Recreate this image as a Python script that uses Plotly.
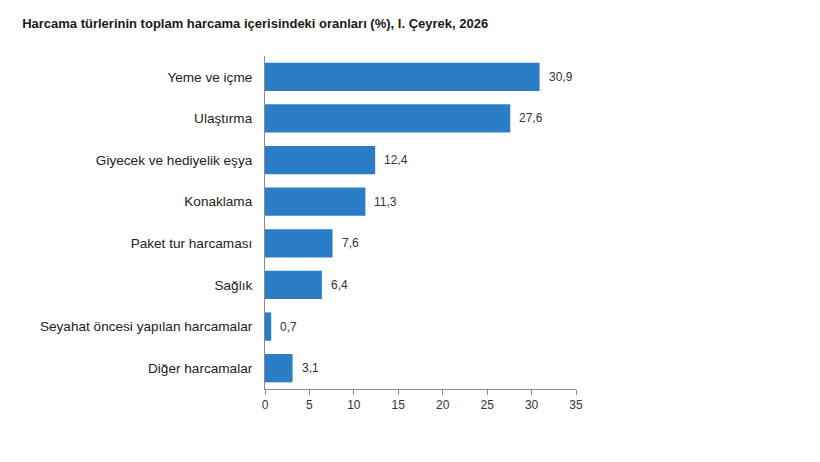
import plotly.graph_objects as go

categories = ["Yeme ve içme", "Ulaştırma", "Giyecek ve hediyelik eşya", "Konaklama",
              "Paket tur harcaması", "Sağlık", "Seyahat öncesi yapılan harcamalar", "Diğer harcamalar"]
values = [30.9, 27.6, 12.4, 11.3, 7.6, 6.4, 0.7, 3.1]
x_ticks = [0, 5, 10, 15, 20, 25, 30, 35]
title = "Harcama türlerinin toplam harcama içerisindeki oranları (%), I. Çeyrek, 2026"

fig = go.Figure(go.Bar(
    x=values, y=categories, orientation="h",
    marker=dict(color="#2a7dc6", line=dict(width=0)),
    width=0.68,
    hoverinfo="skip",
))

for c, v in zip(categories, values):
    fig.add_annotation(x=v, y=c, text=f"{v:.1f}".replace(".", ","), showarrow=False,
                       xanchor="left", xshift=7, font=dict(size=12, color="#333333"))

fig.update_layout(
    width=820, height=462,
    margin=dict(l=265, r=244, t=56, b=73),
    paper_bgcolor="white", plot_bgcolor="white",
    font=dict(family="Liberation Sans, Arial, sans-serif", size=12, color="#222222"),
    title=dict(text="<b>" + title + "</b>", x=0.027, xanchor="left", y=0.95, yanchor="middle",
               font=dict(size=13, color="#1a1a1a")),
    showlegend=False,
    xaxis=dict(range=[0, 35], tickvals=x_ticks, showgrid=False, zeroline=False,
               showline=True, linecolor="#8a8a8a", linewidth=1,
               ticks="outside", ticklen=5, tickcolor="#8a8a8a",
               tickfont=dict(size=12, color="#333333")),
    yaxis=dict(autorange="reversed", showgrid=False, zeroline=False,
               showline=True, linecolor="#8a8a8a", linewidth=1,
               ticks="", ticklabelstandoff=9,
               tickfont=dict(size=13.6, color="#222222")),
)

fig.write_html("out.html")
